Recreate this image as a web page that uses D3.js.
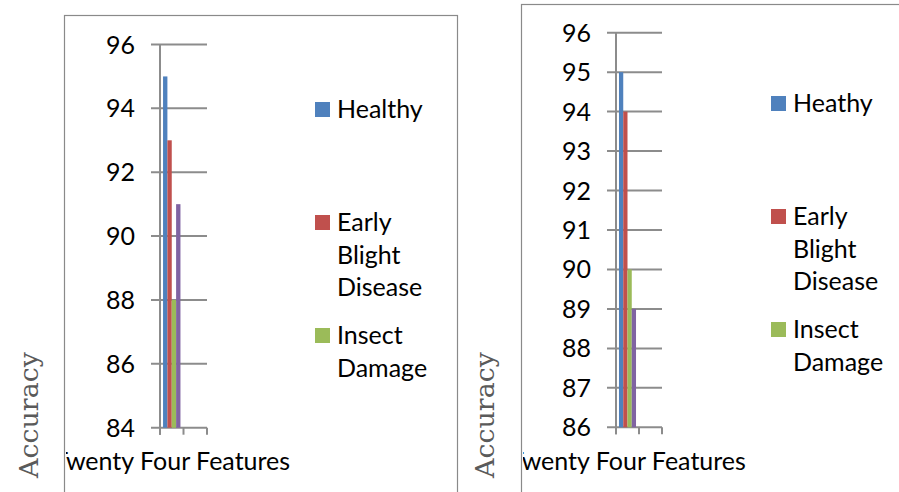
<!DOCTYPE html>
<html>
<head>
<meta charset="utf-8">
<script src="https://cdn.jsdelivr.net/npm/d3@7"></script>
<style>
  html, body { margin: 0; padding: 0; background: #fff; }
  svg { display: block; }
  .lbl { font-family: Lato, "Open Sans", sans-serif; font-size: 25px; fill: #000; }
  .ytitle { font-family: "DejaVu Serif", serif; font-size: 26px; fill: #5a5a5a; }
</style>
</head>
<body>
<svg id="chart" width="899" height="492"></svg>
<script>
// Category axis: one labelled group followed by an empty slot
const categories = ["Twenty Four Features", ""];

// Series names shown in each chart's legend
const seriesNamesA = ["Healthy", "Early Blight Disease", "Insect Damage", "Series4"];
const seriesNamesB = ["Heathy", "Early Blight Disease", "Insect Damage", "Series4"];

// Accuracy (%) per series for the twenty-four-feature set
const valuesA = [95, 93, 88, 91];
const valuesB = [95, 94, 90, 89];

// Y tick values
const ticksA = [84, 86, 88, 90, 92, 94, 96];
const ticksB = [86, 87, 88, 89, 90, 91, 92, 93, 94, 95, 96];

const seriesColors = ["#4F81BD", "#C0504D", "#9BBB59", "#8064A2"];
const gridColor = "#8c8c8c";

const panels = [
  {
    names: seriesNamesA, values: valuesA, ticks: ticksA,
    box: { x: 64, y: 15, w: 393, h: 520 },
    plot: { x0: 160, x1: 207, top: 44.5, bottom: 427.7 },
    legend: { x: 315, y: 102, gap: 113, shown: 3 },
    title: { x: 38, y: 415 }
  },
  {
    names: seriesNamesB, values: valuesB, ticks: ticksB,
    box: { x: 521, y: 4, w: 420, h: 530 },
    plot: { x0: 616, x1: 662, top: 32.7, bottom: 427.3 },
    legend: { x: 771, y: 96, gap: 113, shown: 3 },
    title: { x: 494, y: 415 }
  }
];

const svg = d3.select("#chart");
const defs = svg.append("defs");

panels.forEach((p, pi) => {
  const g = svg.append("g");

  // Chart-area frame
  g.append("rect")
    .attr("x", p.box.x + 0.5).attr("y", p.box.y + 0.5)
    .attr("width", p.box.w).attr("height", p.box.h)
    .attr("fill", "none").attr("stroke", "#8a8a8a").attr("stroke-width", 1.2);

  const clipId = "clip" + pi;
  defs.append("clipPath").attr("id", clipId)
    .append("rect")
    .attr("x", p.box.x + 2).attr("y", p.box.y + 1)
    .attr("width", p.box.w).attr("height", p.box.h);

  const inner = g.append("g").attr("clip-path", `url(#${clipId})`);

  const y = d3.scaleLinear()
    .domain([p.ticks[0], p.ticks[p.ticks.length - 1]])
    .range([p.plot.bottom, p.plot.top]);

  const x0 = d3.scaleBand().domain(categories)
    .range([p.plot.x0, p.plot.x1]).paddingInner(0).paddingOuter(0);

  const x1 = d3.scaleBand().domain(p.names)
    .range([0, x0.bandwidth()]).paddingInner(0).paddingOuter(0.7);

  // Horizontal gridlines with outward tick stubs
  inner.append("g").selectAll("line").data(p.ticks).join("line")
    .attr("x1", p.plot.x0 - 9).attr("x2", p.plot.x1)
    .attr("y1", d => y(d)).attr("y2", d => y(d))
    .attr("stroke", gridColor).attr("stroke-width", 2);

  // Y axis line
  inner.append("line")
    .attr("x1", p.plot.x0).attr("x2", p.plot.x0)
    .attr("y1", p.plot.top).attr("y2", p.plot.bottom + 7)
    .attr("stroke", gridColor).attr("stroke-width", 2);

  // Category tick marks
  const catEdges = categories.map(c => x0(c)).concat([p.plot.x1]);
  inner.append("g").selectAll("line").data(catEdges).join("line")
    .attr("x1", d => d).attr("x2", d => d)
    .attr("y1", p.plot.bottom).attr("y2", p.plot.bottom + 7)
    .attr("stroke", gridColor).attr("stroke-width", 2);

  // Bars
  const cat = categories[0];
  inner.append("g").selectAll("rect").data(p.values).join("rect")
    .attr("x", (d, i) => x0(cat) + x1(p.names[i]))
    .attr("width", x1.bandwidth())
    .attr("y", d => y(d))
    .attr("height", d => y(p.ticks[0]) - y(d))
    .attr("fill", (d, i) => seriesColors[i]);

  // Y tick labels
  inner.append("g").selectAll("text").data(p.ticks).join("text")
    .attr("class", "lbl")
    .attr("x", p.plot.x0 - 25).attr("y", d => y(d))
    .attr("dy", "0.36em")
    .attr("text-anchor", "end")
    .text(d => d);

  // Category labels
  inner.append("g").selectAll("text").data(categories).join("text")
    .attr("class", "lbl")
    .attr("x", d => x0(d) + x0.bandwidth() / 2)
    .attr("y", 470)
    .attr("text-anchor", "middle")
    .text(d => d);

  // Legend (wrapped entries)
  const leg = inner.append("g");
  p.names.slice(0, p.legend.shown).forEach((name, i) => {
    const top = p.legend.y + i * p.legend.gap;
    leg.append("rect")
      .attr("x", p.legend.x).attr("y", top)
      .attr("width", 15).attr("height", 15)
      .attr("fill", seriesColors[i]);
    const t = leg.append("text").attr("class", "lbl")
      .attr("x", p.legend.x + 22).attr("y", top + 16);
    name.split(" ").forEach((w, k) => {
      t.append("tspan").attr("x", p.legend.x + 22)
        .attr("dy", k === 0 ? 0 : 32.5).text(w);
    });
  });

  // Value-axis title
  g.append("text").attr("class", "ytitle")
    .attr("transform", `translate(${p.title.x},${p.title.y}) rotate(-90)`)
    .attr("text-anchor", "middle")
    .attr("textLength", 126).attr("lengthAdjust", "spacingAndGlyphs")
    .text("Accuracy");
});
</script>
</body>
</html>
